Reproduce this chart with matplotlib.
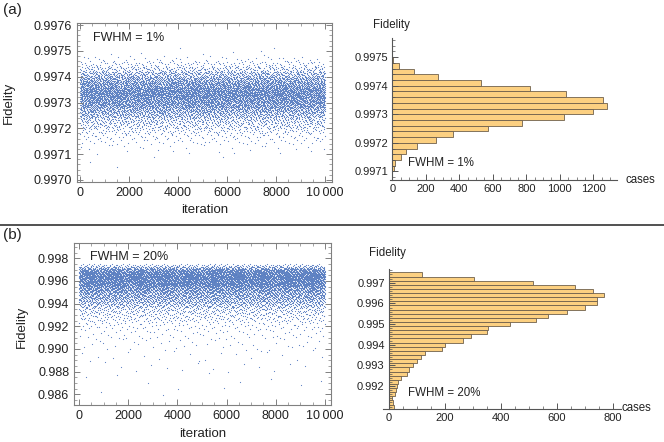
import numpy as np
import matplotlib.pyplot as plt
from matplotlib.ticker import MultipleLocator, FixedLocator, FixedFormatter

plt.rcParams['font.family'] = ['Liberation Sans', 'DejaVu Sans']

W, H = 664, 442

# (a) FWHM = 1% : histogram bins of 0.00002, counted from 0.9975 downward
hist_a_top = 0.9975
hist_a_step = 0.00002
hist_a_counts = [5, 40, 128, 271, 531, 820, 1039, 1256, 1280, 1196,
                 1027, 772, 573, 364, 261, 147, 80, 52, 18, 12]
# isolated points of the scatter outside the histogram range
out_a_iter = [400, 1500, 3000, 5850, 4100, 7400, 7900]
out_a_fid = [0.99707, 0.99705, 0.99709, 0.99709, 0.99751, 0.99750, 0.99751]

# (b) FWHM = 20% : histogram bins of 0.0002, counted from 0.9975 downward
hist_b_top = 0.9975
hist_b_step = 0.0002
hist_b_counts = [119, 305, 515, 664, 730, 769, 745, 745, 702, 637,
                 569, 525, 433, 355, 349, 295, 265, 201, 188, 129,
                 115, 101, 85, 72, 65, 44, 33, 30, 24, 21, 12, 15, 19]
# sparse tail of the scatter below the histogram axis, bins of 0.001
tail_b_top = 0.9909
tail_b_step = 0.001
tail_b_counts = [40, 20, 14, 7, 4, 2]

point_color = '#5a7fc2'
bar_color = '#fcd081'
bar_edge = '#6f604c'
text_color = '#222222'
frame_color = '#808080'


def radical_inverse(j, base):
    out = np.zeros(len(j))
    f = 1.0 / base
    j = j.copy()
    while j.any():
        out += (j % base) * f
        j //= base
        f /= base
    return out


def spread(top, step, counts, start=0):
    # lay each bin's points out over the iterations with a Halton sequence
    counts = np.asarray(counts)
    lows = top - (np.arange(len(counts)) + 1) * step
    lo = np.repeat(lows, counts)
    j = np.arange(start + 1, start + 1 + counts.sum())
    it = radical_inverse(j, 2) * 9999
    fid = lo + radical_inverse(j, 3) * step
    return it, fid


def px(x, y):
    return x / W, 1 - y / H


def rect(left, top, right, bottom):
    return [left / W, 1 - bottom / H, (right - left) / W, (bottom - top) / H]


def style_frame(ax):
    for s in ax.spines.values():
        s.set_color(frame_color)
        s.set_linewidth(0.8)
    ax.tick_params(which='both', direction='in', top=True, right=True,
                   colors=frame_color, labelcolor=text_color, labelsize=9, pad=3.5)
    ax.tick_params(which='major', length=4, width=0.7)
    ax.tick_params(which='minor', length=2, width=0.5)


def style_hist(ax):
    ax.spines['top'].set_visible(False)
    ax.spines['right'].set_visible(False)
    ax.spines['left'].set_position(('data', 0))
    for s in ('left', 'bottom'):
        ax.spines[s].set_color('#555555')
        ax.spines[s].set_linewidth(0.8)
    ax.tick_params(which='both', direction='in', colors='#555555',
                   labelcolor=text_color, labelsize=8, pad=3)
    ax.tick_params(which='major', length=4, width=0.7)
    ax.tick_params(which='minor', length=2, width=0.5)
    ax.set_facecolor('none')


fig = plt.figure(figsize=(W / 100, H / 100), dpi=100)

# ---- (a) scatter
ax1 = fig.add_axes(rect(76.7, 23.3, 331.7, 181.7))
xa, ya = spread(hist_a_top, hist_a_step, hist_a_counts)
ax1.scatter(np.r_[xa, out_a_iter], np.r_[ya, out_a_fid], s=0.7, c=point_color,
            linewidths=0, marker='o')
ax1.set_xlim(-135, 10270)
ax1.set_ylim(0.996993, 0.997607)
ax1.yaxis.set_major_locator(MultipleLocator(0.0001))
ax1.yaxis.set_minor_locator(MultipleLocator(0.00002))
ax1.yaxis.set_major_formatter(lambda v, p: f'{v:.4f}')
ax1.xaxis.set_major_locator(FixedLocator([0, 2000, 4000, 6000, 8000, 10000]))
ax1.xaxis.set_major_formatter(FixedFormatter(['0', '2000', '4000', '6000', '8000', '10\u2009000']))
ax1.xaxis.set_minor_locator(MultipleLocator(500))
style_frame(ax1)
ax1.set_ylabel('Fidelity', fontsize=9.5, color=text_color)
ax1.yaxis.set_label_coords(-0.242, 0.5)
ax1.set_xlabel('iteration', fontsize=9.5, color=text_color)
ax1.xaxis.set_label_coords(0.5, -0.14)

# ---- (a) histogram
ax2 = fig.add_axes(rect(390, 38, 617, 180))
ca = hist_a_top - (np.arange(len(hist_a_counts)) + 0.5) * hist_a_step
ax2.barh(ca, hist_a_counts, height=hist_a_step, color=bar_color,
         edgecolor=bar_edge, linewidth=0.6)
ax2.set_xlim(-14, 1341)
ax2.set_ylim(0.99707, 0.997567)
ax2.yaxis.set_major_locator(FixedLocator([0.9971, 0.9972, 0.9973, 0.9974, 0.9975]))
ax2.yaxis.set_minor_locator(MultipleLocator(0.00002))
ax2.yaxis.set_major_formatter(lambda v, p: f'{v:.4f}')
ax2.xaxis.set_major_locator(FixedLocator([0, 200, 400, 600, 800, 1000, 1200]))
ax2.xaxis.set_minor_locator(MultipleLocator(50))
style_hist(ax2)

# ---- (b) scatter
ax3 = fig.add_axes(rect(74, 243.3, 331, 405))
xb, yb = spread(hist_b_top, hist_b_step, hist_b_counts)
xt, yt = spread(tail_b_top, tail_b_step, tail_b_counts, start=len(xb))
ax3.scatter(np.r_[xb, xt], np.r_[yb, yt], s=0.7, c=point_color,
            linewidths=0, marker='o')
ax3.set_xlim(-203, 10244)
ax3.set_ylim(0.985056, 0.999324)
ax3.yaxis.set_major_locator(MultipleLocator(0.002))
ax3.yaxis.set_minor_locator(MultipleLocator(0.0005))
ax3.yaxis.set_major_formatter(lambda v, p: f'{v:.3f}')
ax3.xaxis.set_major_locator(FixedLocator([0, 2000, 4000, 6000, 8000, 10000]))
ax3.xaxis.set_major_formatter(FixedFormatter(['0', '2000', '4000', '6000', '8000', '10\u2009000']))
ax3.xaxis.set_minor_locator(MultipleLocator(500))
style_frame(ax3)
ax3.set_ylabel('Fidelity', fontsize=9.5, color=text_color)
ax3.yaxis.set_label_coords(-0.178, 0.484)
ax3.set_xlabel('iteration', fontsize=9.5, color=text_color)
ax3.xaxis.set_label_coords(0.5, -0.144)

# ---- (b) histogram
ax4 = fig.add_axes(rect(383, 269.3, 621, 409.3))
cb = hist_b_top - (np.arange(len(hist_b_counts)) + 0.5) * hist_b_step
ax4.barh(cb, hist_b_counts, height=hist_b_step, color=bar_color,
         edgecolor=bar_edge, linewidth=0.6)
ax4.set_xlim(-21, 829)
ax4.set_ylim(0.99087, 0.99765)
ax4.yaxis.set_major_locator(FixedLocator([0.992, 0.993, 0.994, 0.995, 0.996, 0.997]))
ax4.yaxis.set_minor_locator(MultipleLocator(0.0002))
ax4.yaxis.set_major_formatter(lambda v, p: f'{v:.3f}')
ax4.xaxis.set_major_locator(FixedLocator([0, 200, 400, 600, 800]))
ax4.xaxis.set_minor_locator(MultipleLocator(50))
style_hist(ax4)

# ---- labels
fig.text(*px(3, 10), '(a)', fontsize=11, color=text_color, va='center')
fig.text(*px(3, 235), '(b)', fontsize=11, color=text_color, va='center')
fig.text(*px(93, 38), 'FWHM = 1%', fontsize=9, color=text_color, va='center')
fig.text(*px(90, 256.7), 'FWHM = 20%', fontsize=9, color=text_color, va='center')
fig.text(*px(408, 163), 'FWHM = 1%', fontsize=8.3, color=text_color, va='center')
fig.text(*px(408, 392.7), 'FWHM = 20%', fontsize=8.3, color=text_color, va='center')
fig.text(*px(391, 25), 'Fidelity', fontsize=8.3, color=text_color, ha='center', va='center')
fig.text(*px(387, 253), 'Fidelity', fontsize=8.3, color=text_color, ha='center', va='center')
fig.text(*px(625, 180), 'cases', fontsize=8.3, color=text_color, va='center')
fig.text(*px(622, 408), 'cases', fontsize=8.3, color=text_color, va='center')

# separator between (a) and (b)
fig.add_artist(plt.Line2D([0, 1], [1 - 225 / H, 1 - 225 / H], color='#333333',
                          linewidth=1.2, transform=fig.transFigure))

fig.savefig('out.png', dpi=100)
